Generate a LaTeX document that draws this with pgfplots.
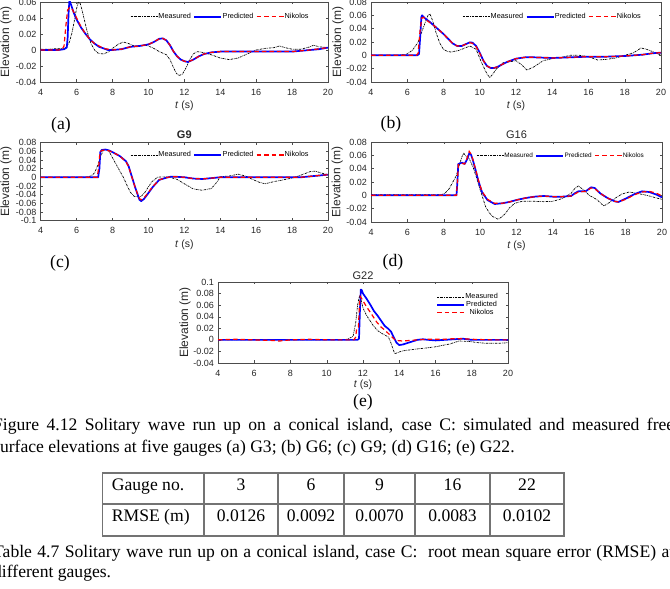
\documentclass[border=0pt]{standalone}
\usepackage{fontspec}
\setmainfont{Liberation Serif}
\setsansfont{Liberation Sans}
\usepackage{pgfplots}
\pgfplotsset{compat=1.18}

\newcommand{\capfont}{\fontsize{17.6}{22}\selectfont}
\newcommand{\titlefont}{\fontsize{11}{12}\selectfont\sffamily}
\newcommand{\legfont}{\fontsize{7.3}{8}\selectfont\sffamily}
\newcommand{\legfontsmall}{\fontsize{6.4}{7}\selectfont\sffamily}

\pgfplotsset{
  gauge/.style={
    scale only axis, anchor=south west,
    xmin=4, xmax=20, xtick={4,6,...,20},
    scaled y ticks=false, scaled x ticks=false,
    tick align=inside, major tick length=2.5pt,
    axis line style={draw=black!70, line width=0.5pt},
    every tick/.style={black!70, line width=0.4pt},
    /pgf/number format/assume math mode=true,
    ticklabel style={font={\fontsize{9}{10}\selectfont\sffamily}, text=black!85},
    yticklabel style={/pgf/number format/fixed, /pgf/number format/precision=2,
                      anchor=east, inner sep=0pt, xshift=-4pt},
    xticklabel style={anchor=center, inner sep=0pt, yshift=-10pt},
    xlabel={\textit{t} (s)}, ylabel={Elevation (m)},
    xlabel style={font={\fontsize{10.5}{12}\selectfont\sffamily}, text=black!85,
                  at={(axis description cs:0.5,0)}, anchor=center, yshift=-24pt},
    ylabel style={font={\fontsize{12}{13}\selectfont\sffamily}, text=black!85, anchor=center},
    legend image code/.code={\draw[#1] (0pt,0pt) -- (27pt,0pt);},
    legend style={draw=none, fill=none, inner sep=0pt, legend columns=3,
                  font=\legfont, anchor=east,
                  nodes={inner sep=0.5pt},
                  /tikz/every even column/.append style={column sep=2pt}},
  },
  meas/.style={black, line width=0.7pt, dash pattern=on 2pt off 0.9pt on 0.6pt off 0.9pt},
  pred/.style={blue, line width=1.7pt, line join=round},
  nik/.style={red, line width=1.2pt, dash pattern=on 4.5pt off 3pt},
}

\begin{document}
\begin{tikzpicture}[x=1pt,y=1pt]
\useasboundingbox (0,0) rectangle (670,589);
\clip (0,0) rectangle (670,589);

% ---------------- (a) gauge G3 ----------------
\begin{axis}[gauge, at={(40.7pt,507pt)}, width=287.3pt, height=80pt,
  ymin=-0.04, ymax=0.06, ytick={-0.04,-0.02,0,0.02,0.04,0.06},
  ylabel style={at={(axis description cs:-0.1208,0.5)}},
  legend style={at={(axis description cs:0.935,0.816)}}]
\addplot[meas] coordinates {(4,0.001)(4.5,0.001)(5,0.002)(5.3,0.002)(5.45,0.004)(5.6,0.010)(5.75,0.022)(5.9,0.040)(6.0,0.052)(6.1,0.060)(6.2,0.058)(6.3,0.050)(6.45,0.036)(6.6,0.022)(6.8,0.008)(7.0,0.0)(7.2,-0.004)(7.5,-0.005)(7.8,-0.002)(8.0,0.002)(8.3,0.007)(8.6,0.010)(8.9,0.008)(9.2,0.005)(9.5,0.005)(9.8,0.006)(10.0,0.005)(10.3,0.002)(10.6,-0.002)(11.0,-0.006)(11.2,-0.012)(11.4,-0.022)(11.55,-0.029)(11.7,-0.032)(11.9,-0.030)(12.1,-0.022)(12.3,-0.012)(12.5,-0.005)(12.7,-0.002)(13.0,-0.003)(13.5,-0.006)(14.0,-0.010)(14.5,-0.012)(15.0,-0.010)(15.5,-0.005)(16.0,0.0)(16.5,0.002)(17.0,0.003)(17.3,0.005)(17.6,0.003)(18.0,0.001)(18.5,0.001)(19.0,0.004)(19.2,0.006)(19.5,0.004)(20.0,0.003)};
\addplot[pred] coordinates {(4,0.0)(5.0,0.0)(5.3,0.001)(5.45,0.003)(5.5,0.015)(5.55,0.045)(5.6,0.062)(5.7,0.056)(5.85,0.046)(6.0,0.038)(6.25,0.028)(6.5,0.020)(6.75,0.013)(7.0,0.008)(7.25,0.004)(7.5,0.002)(7.75,0.0)(8.0,0.0)(8.5,0.001)(9.0,0.004)(9.5,0.005)(10.0,0.007)(10.3,0.010)(10.6,0.014)(10.8,0.0145)(11.0,0.012)(11.2,0.006)(11.4,-0.002)(11.6,-0.008)(11.8,-0.012)(12.0,-0.014)(12.2,-0.015)(12.5,-0.012)(12.8,-0.008)(13.1,-0.005)(13.5,-0.003)(14.0,-0.002)(15.0,-0.002)(16.0,-0.002)(17.0,-0.002)(18.0,-0.002)(18.5,-0.001)(19.0,0.0)(19.5,0.001)(20.0,0.003)};
\addplot[nik] coordinates {(4,0.0)(5.0,0.0)(5.2,0.001)(5.3,0.005)(5.4,0.03)(5.5,0.05)(5.6,0.053)(5.75,0.051)(5.9,0.045)(6.0,0.040)(6.25,0.029)(6.5,0.020)(6.75,0.013)(7.0,0.008)(7.5,0.002)(8.0,0.0)(8.5,0.001)(9.0,0.004)(9.5,0.005)(10.0,0.007)(10.3,0.010)(10.6,0.014)(10.8,0.0145)(11.0,0.012)(11.2,0.006)(11.4,-0.002)(11.6,-0.008)(11.8,-0.012)(12.0,-0.014)(12.2,-0.015)(12.5,-0.012)(12.8,-0.008)(13.1,-0.005)(13.5,-0.003)(14,-0.002)(16,-0.002)(18,-0.002)(19,0.0)(20,0.003)};
\legend{Measured,Predicted,Nikolos}
\end{axis}

% ---------------- (b) gauge G6 ----------------
\begin{axis}[gauge, at={(371pt,507pt)}, width=290pt, height=80pt,
  ymin=-0.04, ymax=0.08, ytick={-0.04,-0.02,0,0.02,0.04,0.06,0.08},
  ylabel style={at={(axis description cs:-0.114,0.5)}},
  legend style={at={(axis description cs:0.933,0.816)}}]
\addplot[meas] coordinates {(4,0.0)(5.5,0.0)(5.8,0.001)(6.0,0.002)(6.3,0.008)(6.6,0.020)(6.8,0.035)(7.0,0.050)(7.15,0.060)(7.25,0.062)(7.4,0.052)(7.6,0.033)(7.8,0.018)(8.0,0.009)(8.2,0.006)(8.4,0.005)(8.8,0.007)(9.1,0.010)(9.45,0.014)(9.8,0.009)(10.1,-0.011)(10.4,-0.028)(10.55,-0.033)(10.7,-0.029)(10.9,-0.021)(11.3,-0.011)(11.6,-0.010)(12.0,-0.008)(12.3,-0.014)(12.6,-0.022)(12.95,-0.018)(13.5,-0.008)(14.0,-0.005)(14.5,-0.003)(15.0,0.0)(15.5,0.0)(16.0,-0.002)(16.5,-0.007)(17.0,-0.006)(17.5,-0.004)(18.0,0.0)(18.5,0.004)(18.9,0.011)(19.2,0.009)(19.5,0.006)(20.0,0.0)};
\addplot[pred] coordinates {(4,0.0)(6.0,0.0)(6.55,0.0)(6.65,0.002)(6.72,0.03)(6.78,0.058)(6.82,0.060)(7.0,0.055)(7.25,0.050)(7.5,0.044)(7.75,0.038)(8.0,0.032)(8.25,0.025)(8.5,0.018)(8.75,0.014)(9.0,0.014)(9.25,0.017)(9.45,0.0195)(9.6,0.019)(9.8,0.014)(10.0,0.004)(10.2,-0.008)(10.4,-0.016)(10.6,-0.019)(10.8,-0.019)(11.0,-0.017)(11.5,-0.010)(12.0,-0.005)(12.5,-0.003)(13.0,-0.003)(14.0,-0.004)(15.0,-0.003)(16.0,-0.002)(17.0,-0.002)(18.0,-0.001)(19.0,0.001)(19.5,0.003)(20.0,0.004)};
\addplot[nik] coordinates {(4,0.0)(6.0,0.0)(6.5,0.0)(6.6,0.003)(6.7,0.035)(6.8,0.056)(6.9,0.057)(7.0,0.054)(7.25,0.049)(7.5,0.044)(7.75,0.038)(8.0,0.032)(8.25,0.025)(8.5,0.018)(8.75,0.014)(9.0,0.014)(9.25,0.017)(9.45,0.019)(9.6,0.018)(9.8,0.013)(10.0,0.003)(10.2,-0.008)(10.4,-0.016)(10.6,-0.019)(10.8,-0.019)(11.0,-0.017)(11.5,-0.010)(12.0,-0.005)(12.5,-0.003)(13,-0.003)(14,-0.004)(15,-0.003)(16,-0.002)(17,-0.002)(18,-0.001)(19,0.001)(19.5,0.003)(20,0.004)};
\legend{Measured,Predicted,Nikolos}
\end{axis}

% ---------------- (c) gauge G9 ----------------
\begin{axis}[gauge, at={(40.7pt,368.4pt)}, width=287.3pt, height=78pt,
  ymin=-0.1, ymax=0.08, ytick={-0.1,-0.08,-0.06,-0.04,-0.02,0,0.02,0.04,0.06,0.08},
  ylabel style={at={(axis description cs:-0.1208,0.5)}},
  legend style={at={(axis description cs:0.935,0.841)}}]
\addplot[meas] coordinates {(4,0.0)(6.5,0.0)(6.8,0.003)(7.0,0.01)(7.2,0.03)(7.35,0.05)(7.5,0.062)(7.6,0.065)(7.8,0.060)(8.0,0.045)(8.2,0.030)(8.4,0.015)(8.6,0.0)(8.8,-0.018)(9.0,-0.035)(9.2,-0.044)(9.4,-0.045)(9.6,-0.044)(9.8,-0.035)(10.0,-0.022)(10.2,-0.010)(10.5,0.0)(10.8,0.001)(11.2,0.0)(11.6,-0.005)(12.0,-0.015)(12.5,-0.027)(13.0,-0.030)(13.5,-0.026)(13.8,-0.012)(14.0,0.001)(14.5,0.003)(15.0,0.007)(15.4,0.003)(15.8,-0.005)(16.2,-0.012)(16.5,-0.015)(17.0,-0.010)(17.5,-0.006)(18.0,-0.002)(18.5,0.005)(19.0,0.013)(19.3,0.014)(19.6,0.010)(20.0,0.006)};
\addplot[pred] coordinates {(4,0.0)(7.0,0.0)(7.2,0.0)(7.27,0.02)(7.32,0.058)(7.4,0.063)(7.6,0.064)(7.8,0.062)(8.0,0.058)(8.4,0.049)(8.75,0.037)(8.9,0.025)(9.05,0.005)(9.25,-0.022)(9.4,-0.040)(9.5,-0.052)(9.6,-0.055)(9.75,-0.050)(9.9,-0.042)(10.25,-0.022)(10.6,-0.006)(11.0,-0.001)(11.2,0.001)(11.6,0.001)(12.0,0.0)(12.5,-0.003)(13.0,-0.004)(13.5,-0.002)(14.0,0.0)(15.0,0.0)(16,0.0)(17,0.0)(18,0.0)(18.5,0.0)(19.0,0.002)(19.5,0.004)(20.0,0.006)};
\addplot[nik] coordinates {(4,0.0)(7.0,0.0)(7.15,0.0)(7.22,0.02)(7.3,0.058)(7.4,0.062)(7.6,0.063)(7.8,0.061)(8.0,0.058)(8.4,0.049)(8.75,0.036)(8.9,0.024)(9.05,0.004)(9.25,-0.022)(9.4,-0.039)(9.5,-0.049)(9.6,-0.052)(9.75,-0.048)(9.9,-0.040)(10.25,-0.021)(10.6,-0.006)(11.0,-0.001)(11.2,0.001)(11.6,0.001)(12.0,0.0)(12.5,-0.003)(13.0,-0.004)(13.5,-0.002)(14.0,0.0)(15,0.0)(16,0.0)(17,0.0)(18,0.0)(18.5,0.0)(19.0,0.002)(19.5,0.004)(20.0,0.006)};
\legend{Measured,Predicted,Nikolos}
\end{axis}

% ---------------- (d) gauge G16 ----------------
\begin{axis}[gauge, at={(371pt,367pt)}, width=291pt, height=80pt,
  ymin=-0.04, ymax=0.08, ytick={-0.04,-0.02,0,0.02,0.04,0.06,0.08},
  ylabel style={at={(axis description cs:-0.116,0.5)}},
  legend style={at={(axis description cs:0.94,0.829)}, font=\legfontsmall}]
\addplot[meas] coordinates {(4,0.001)(7.9,0.001)(8.1,0.004)(8.3,0.010)(8.5,0.020)(8.7,0.030)(8.85,0.045)(9.0,0.058)(9.1,0.063)(9.25,0.058)(9.4,0.055)(9.6,0.043)(9.8,0.027)(9.95,0.013)(10.1,0.0)(10.3,-0.017)(10.5,-0.026)(10.7,-0.032)(11.0,-0.036)(11.2,-0.032)(11.4,-0.027)(11.6,-0.019)(11.9,-0.012)(12.3,-0.009)(13.0,-0.009)(13.5,-0.0095)(14.0,-0.009)(14.5,-0.005)(15.0,0.003)(15.2,0.010)(15.4,0.014)(15.7,0.008)(16.0,0.0)(16.4,-0.006)(16.8,-0.016)(17.1,-0.011)(17.5,-0.003)(17.8,0.002)(18.2,0.005)(18.6,0.003)(19.0,0.001)(19.3,-0.001)(19.7,-0.004)(20.0,-0.006)};
\addplot[pred] coordinates {(4,0.0)(8.6,0.0)(8.7,0.0)(8.75,0.02)(8.8,0.047)(9.0,0.049)(9.15,0.047)(9.3,0.055)(9.4,0.063)(9.5,0.061)(9.6,0.053)(9.75,0.038)(9.9,0.022)(10.1,0.005)(10.4,-0.007)(10.8,-0.013)(11.2,-0.012)(11.6,-0.010)(12.0,-0.007)(12.5,-0.004)(13.0,-0.002)(13.5,-0.001)(14.0,-0.002)(14.5,-0.002)(15.0,-0.001)(15.2,0.003)(15.4,0.006)(15.8,0.006)(16.1,0.012)(16.3,0.011)(16.6,0.003)(17.0,-0.004)(17.4,-0.009)(17.6,-0.010)(18.0,-0.005)(18.5,0.002)(18.9,0.006)(19.3,0.005)(19.7,0.001)(20.0,-0.003)};
\addplot[nik] coordinates {(4,0.0)(8.6,0.0)(8.7,0.0)(8.75,0.02)(8.8,0.046)(9.0,0.048)(9.15,0.047)(9.3,0.057)(9.4,0.066)(9.5,0.062)(9.6,0.054)(9.75,0.039)(9.9,0.023)(10.1,0.006)(10.4,-0.006)(10.8,-0.012)(11.2,-0.012)(11.6,-0.010)(12.0,-0.007)(12.5,-0.004)(13,-0.002)(13.5,-0.001)(14,-0.002)(14.5,-0.002)(15,-0.001)(15.2,0.002)(15.4,0.005)(15.8,0.006)(16.1,0.011)(16.3,0.010)(16.6,0.003)(17,-0.004)(17.4,-0.009)(17.6,-0.010)(18,-0.006)(18.5,0.001)(18.9,0.005)(19.3,0.006)(19.7,0.003)(20,-0.001)};
\legend{Measured,Predicted,Nikolos}
\end{axis}

% ---------------- (e) gauge G22 ----------------
\begin{axis}[gauge, at={(218pt,226pt)}, width=290pt, height=81pt,
  ymin=-0.04, ymax=0.1, ytick={-0.04,-0.02,0,0.02,0.04,0.06,0.08,0.1},
  ylabel style={at={(axis description cs:-0.114,0.5)}},
  xlabel style={yshift=2pt},
  legend style={legend columns=1, anchor=north west, at={(axis description cs:0.7517,0.865)}}]
\addplot[meas] coordinates {(4,0.0)(11.0,0.0)(11.2,0.002)(11.45,0.006)(11.6,0.030)(11.7,0.060)(11.8,0.075)(11.9,0.068)(12.0,0.055)(12.2,0.042)(12.56,0.025)(12.8,0.016)(13.1,0.010)(13.4,0.005)(13.55,-0.006)(13.75,-0.024)(14.0,-0.021)(14.2,-0.019)(14.9,-0.016)(15.5,-0.014)(16.0,-0.012)(16.8,-0.007)(17.3,-0.002)(17.9,-0.003)(18.4,-0.005)(18.8,-0.006)(19.4,-0.006)(20.0,-0.005)};
\addplot[pred] coordinates {(4,0.0)(11.7,0.0)(11.78,0.002)(11.83,0.05)(11.88,0.087)(11.93,0.086)(12.0,0.080)(12.2,0.071)(12.4,0.061)(12.6,0.050)(12.8,0.042)(13.0,0.033)(13.2,0.024)(13.4,0.019)(13.55,0.014)(13.7,0.004)(13.85,-0.005)(14.0,-0.009)(14.2,-0.008)(14.5,-0.005)(14.8,-0.002)(15.0,0.0)(15.3,0.001)(15.6,0.0)(16,-0.001)(16.5,0.0)(17,0.001)(17.5,0.002)(18,0.0)(19,0.0)(20,0.0)};
\addplot[nik] coordinates {(4,0.0)(5,0.001)(6,0.0)(7,-0.001)(7.4,-0.002)(8,0.0)(9,0.001)(10,0.0)(11,0.0)(11.5,0.0)(11.6,0.005)(11.65,0.02)(11.75,0.022)(11.8,0.06)(11.85,0.075)(11.95,0.070)(12.2,0.057)(12.5,0.043)(12.75,0.031)(13.0,0.022)(13.2,0.017)(13.5,0.008)(13.8,-0.001)(14.2,-0.002)(14.6,-0.001)(15.0,0.0)(15.5,0.001)(16,0.001)(16.5,0.001)(17,0.002)(17.5,0.002)(18,0.001)(19,0.0)(20,0.0)};
\legend{Measured,Predicted,Nikolos}
\end{axis}

% ---------------- gauge titles ----------------
\begin{scope}[every node/.style={font=\titlefont, text=black!85, inner sep=0pt}]
\node at (184.3,454) {\bfseries G9};
\node at (516.5,454) {G16};
\node at (363,313) {G22};
\end{scope}

% ---------------- sub-figure letters ----------------
\begin{scope}[every node/.style={font=\capfont, inner sep=0pt}]
\node at (61,464) {(a)};
\node at (391,465) {(b)};
\node at (60,326) {(c)};
\node at (393,327) {(d)};
\node at (363,187) {(e)};
\end{scope}

% ---------------- figure caption ----------------
\begin{scope}[every node/.style={font=\capfont, inner sep=0pt, anchor=base west}]
\node at (-7,158) {\makebox[681pt][s]{Figure 4.12 Solitary wave run up on a conical island, case C: simulated and measured free}};
\node at (-7,136) {surface elevations at five gauges (a) G3; (b) G6; (c) G9; (d) G16; (e) G22.};
\node at (-7,31) {\makebox[681pt][s]{Table 4.7 Solitary wave run up on a conical island, case C:~ root mean square error (RMSE) at}};
\node at (-7,11) {different gauges.};
\end{scope}

% ---------------- RMSE table ----------------
\begin{scope}[black!55, line width=1.1pt]
\draw (102.7,53) rectangle (564,116);
\draw (102.7,85) -- (564,85);
\foreach \c in {204,278,344,415,490} \draw (\c,53) -- (\c,116);
\end{scope}
\begin{scope}[every node/.style={font=\capfont, inner sep=0pt, anchor=base}]
\node[anchor=base west] at (111.7,98) {Gauge no.};
\node[anchor=base west] at (111.7,67) {RMSE (m)};
\node at (241,98) {3};      \node at (241,67) {0.0126};
\node at (311,98) {6};      \node at (311,67) {0.0092};
\node at (379.5,98) {9};    \node at (379.5,67) {0.0070};
\node at (452.5,98) {16};   \node at (452.5,67) {0.0083};
\node at (527,98) {22};     \node at (527,67) {0.0102};
\end{scope}
\end{tikzpicture}
\end{document}
